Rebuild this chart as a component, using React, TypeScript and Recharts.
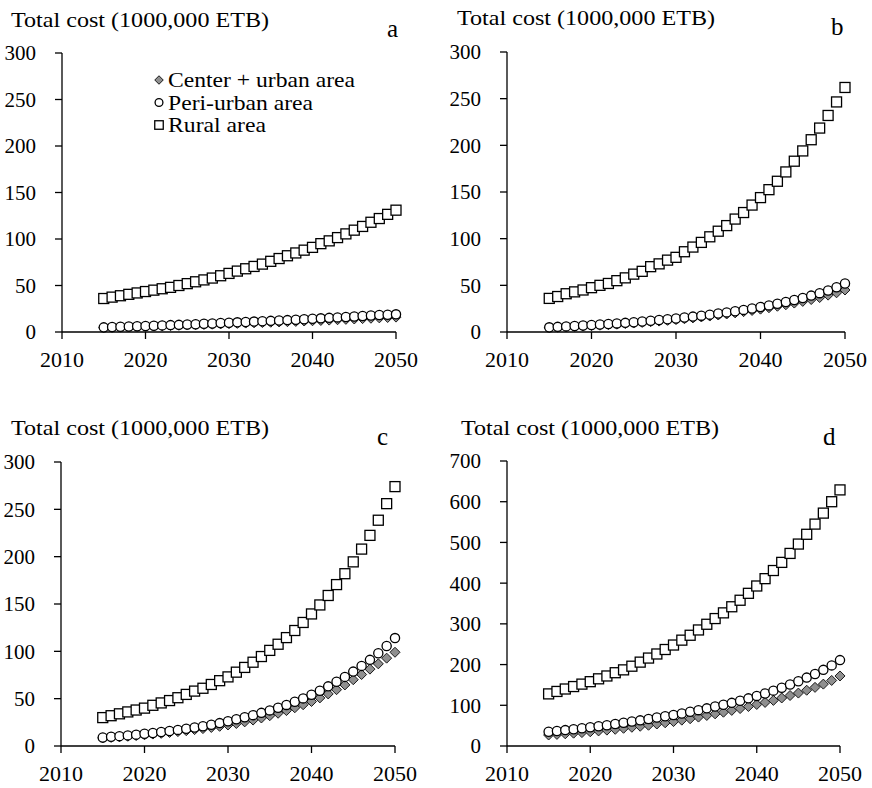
import React from 'react'
import { ScatterChart, Scatter, XAxis, YAxis } from 'recharts'

const years = [
    2015, 2016, 2017, 2018, 2019, 2020, 2021, 2022, 2023, 2024, 2025, 2026,
    2027, 2028, 2029, 2030, 2031, 2032, 2033, 2034, 2035, 2036, 2037, 2038,
    2039, 2040, 2041, 2042, 2043, 2044, 2045, 2046, 2047, 2048, 2049, 2050,
]

const seriesNames = ['Center + urban area', 'Peri-urban area', 'Rural area']
const xTicks = [2010, 2020, 2030, 2040, 2050]
const yTicks300 = [0, 50, 100, 150, 200, 250, 300]
const yTicks700 = [0, 100, 200, 300, 400, 500, 600, 700]
const axisTitle = 'Total cost (1000,000 ETB)'

// panel a
const centerA = [4.5, 4.8, 5.1, 5.4, 5.7, 6, 6.3, 6.6, 6.9, 7.2, 7.5, 7.8, 8.1, 8.4, 8.7, 9, 9.3, 9.6, 9.9, 10.2, 10.5, 10.8, 11.1, 11.4, 11.8, 12.1, 12.4, 12.8, 13.2, 13.6, 14, 14.4, 14.8, 15.2, 15.6, 16]
const periA = [5, 5.3, 5.6, 5.9, 6.2, 6.5, 6.8, 7.1, 7.4, 7.7, 8, 8.4, 8.8, 9.2, 9.6, 10, 10.4, 10.8, 11.2, 11.6, 12, 12.4, 12.8, 13.2, 13.7, 14.2, 14.7, 15.2, 15.7, 16.2, 16.7, 17.2, 17.7, 18.2, 18.6, 19]
const ruralA = [36, 37.5, 39, 40.5, 42, 43.5, 45, 46.5, 48, 50, 52, 54, 56, 58, 60.5, 63, 65.5, 68, 70.5, 73, 76, 79, 82, 85, 88, 91, 95, 98, 101.5, 105.5, 109.5, 113.5, 118, 122, 126.5, 131]

// panel b
const centerB = [4.5, 5, 5.4, 5.8, 6.3, 6.8, 7.3, 7.8, 8.4, 9, 9.6, 10.3, 11, 11.7, 12.5, 13.3, 14.2, 15.1, 16.1, 17.1, 18.2, 19.3, 20.5, 21.8, 23.1, 24.5, 26, 27.6, 29.2, 31, 32.8, 34.8, 36.9, 39.5, 42, 45]
const periB = [5, 5.5, 6, 6.5, 7, 7.5, 8, 8.6, 9.2, 9.8, 10.5, 11.2, 12, 12.8, 13.6, 14.5, 15.5, 16.5, 17.5, 18.6, 19.8, 21, 22.3, 23.7, 25.2, 26.8, 28.5, 30.3, 32.2, 34.3, 36.5, 39, 41.6, 44.5, 48, 52]
const ruralB = [36, 38, 41, 43, 45, 47.5, 50, 52, 55, 58, 62, 65, 70, 73, 77, 80, 86, 91, 96, 102, 108, 114, 121, 128, 136, 144, 152.5, 161.5, 171.5, 183, 194, 206, 218.5, 232, 246.5, 262]

// panel c
const centerC = [8.5, 9.1, 9.7, 10.3, 11, 11.8, 12.6, 13.4, 14.3, 15.2, 16.2, 17.3, 18.4, 19.6, 20.8, 22.2, 23.8, 25.5, 27.4, 29.6, 32, 34.6, 37.4, 40.4, 43.6, 47, 50.8, 55, 59.5, 64.5, 70, 75.5, 81.2, 86.8, 92.8, 99]
const periC = [9, 9.7, 10.4, 11.2, 12, 12.9, 13.8, 14.8, 15.9, 17, 18.2, 19.5, 20.9, 22.4, 24.2, 26.2, 28.3, 30.4, 32.6, 35, 37.6, 40.4, 43.4, 46.7, 50.3, 54.2, 58.4, 63, 67.8, 73, 78.6, 84.6, 91, 98, 105.7, 114]
const ruralC = [30, 32, 34, 36, 38, 40, 43, 45.5, 48, 51, 54.5, 58, 61, 65, 69, 73, 78, 83, 88.5, 94.5, 101, 107.5, 114.5, 122, 130.5, 139.5, 149, 159, 170.5, 182, 194.5, 208, 222.5, 238.5, 256, 274]

// panel d
const centerD = [27, 28.5, 30, 31.5, 33, 35, 37, 39, 41, 43.5, 46, 48.5, 51, 54, 57, 60, 63.5, 67, 71, 75, 79, 83, 87.5, 92, 97, 102, 107, 112, 118, 124, 130, 137, 144, 152, 161, 172]
const periD = [35, 37, 39, 41, 43.5, 46, 48.5, 51, 54, 57, 60, 63, 66.5, 70, 73, 76, 80, 84, 88, 92.5, 97, 101.5, 106, 111, 117, 123, 129, 136, 143, 151, 159, 168, 177, 187, 198, 211]
const ruralD = [128, 134, 140, 146, 152, 158, 165, 172, 180, 187, 196, 206, 216, 226, 237, 248, 260, 272, 285, 299, 313, 327, 342, 358, 375, 393, 411, 431, 451, 473, 496, 520, 545, 572, 600, 629]

const FONT = '"Liberation Serif", "Times New Roman", serif'

const toPoints = (values: number[]) => years.map((year, i) => ({ x: year, y: values[i] }))

// marker half-widths in px; `k` scales them down for the legend
function DiamondShape({ cx, cy, k = 1 }: any) {
    const s = 5 * k
    return (
        <path
            d={`M${cx},${cy - s}L${cx + s},${cy}L${cx},${cy + s}L${cx - s},${cy}Z`}
            fill="#8f8f8f"
            stroke="#1a1a1a"
            strokeWidth={1}
        />
    )
}

function CircleShape({ cx, cy, k = 1 }: any) {
    return <circle cx={cx} cy={cy} r={4.6 * k} fill="#fff" stroke="#000" strokeWidth={1.3} />
}

function SquareShape({ cx, cy, k = 1 }: any) {
    const h = 5 * k
    return <rect x={cx - h} y={cy - h} width={h * 2} height={h * 2} fill="#fff" stroke="#000" strokeWidth={1.3} />
}

const shapes = [DiamondShape, CircleShape, SquareShape]

type Panel = {
    letter: string
    left: number
    top: number
    margin: { top: number; right: number; bottom: number; left: number }
    yMax: number
    yTicks: number[]
    series: number[][]
    titleX: number
    titleY: number
    letterX: number
    letterY: number
}

const panels: Panel[] = [
    {
        letter: 'a', left: 0, top: 0,
        margin: { top: 53, right: 40, bottom: 32, left: 12 },
        yMax: 300, yTicks: yTicks300, series: [centerA, periA, ruralA],
        titleX: 11, titleY: 27, letterX: 387, letterY: 37,
    },
    {
        letter: 'b', left: 436, top: 0,
        margin: { top: 52, right: 27, bottom: 32, left: 21 },
        yMax: 300, yTicks: yTicks300, series: [centerB, periB, ruralB],
        titleX: 457, titleY: 25, letterX: 831, letterY: 35,
    },
    {
        letter: 'c', left: 0, top: 394,
        margin: { top: 68, right: 41, bottom: 12, left: 11 },
        yMax: 300, yTicks: yTicks300, series: [centerC, periC, ruralC],
        titleX: 11, titleY: 435, letterX: 377, letterY: 445,
    },
    {
        letter: 'd', left: 436, top: 394,
        margin: { top: 67, right: 32, bottom: 12, left: 21 },
        yMax: 700, yTicks: yTicks700, series: [centerD, periD, ruralD],
        titleX: 461, titleY: 435, letterX: 823, letterY: 445,
    },
]

const tickStyle = { fill: '#000', fontSize: 22, fontFamily: FONT }
const axisStroke = { stroke: '#000', strokeWidth: 1.3 }

function PanelChart({ panel }: { panel: Panel }) {
    return (
        <div style={{ position: 'absolute', left: panel.left, top: panel.top, fontFamily: FONT }}>
            <ScatterChart width={436} height={394} margin={panel.margin} style={{ fontFamily: FONT, overflow: 'visible' }}>
                <XAxis
                    type="number"
                    dataKey="x"
                    domain={[2010, 2050]}
                    ticks={xTicks}
                    interval={0}
                    height={30}
                    tickSize={7}
                    tickMargin={12}
                    tick={tickStyle}
                    axisLine={axisStroke}
                    tickLine={axisStroke}
                />
                <YAxis
                    type="number"
                    dataKey="y"
                    domain={[0, panel.yMax]}
                    ticks={panel.yTicks}
                    interval={0}
                    width={50}
                    tickSize={7}
                    tickMargin={19}
                    tick={{ ...tickStyle, fontSize: 21 }}
                    axisLine={axisStroke}
                    tickLine={axisStroke}
                />
                {panel.series.map((values, i) => {
                    const Shape = shapes[i]
                    return (
                        <Scatter
                            key={seriesNames[i]}
                            name={seriesNames[i]}
                            data={toPoints(values)}
                            shape={(p: any) => <Shape cx={p.cx} cy={p.cy} />}
                            isAnimationActive={false}
                        />
                    )
                })}
            </ScatterChart>
        </div>
    )
}

// legend rows inside panel a
const legendRows = [
    { y: 80, width: 187 },
    { y: 102.5, width: 145 },
    { y: 125, width: 98 },
]

function Overlay() {
    return (
        <svg width={872} height={788} style={{ position: 'absolute', left: 0, top: 0, pointerEvents: 'none', fontFamily: FONT }}>
            {panels.map((p) => (
                <g key={p.letter}>
                    <text x={p.titleX} y={p.titleY} fontSize={21} textLength={258} lengthAdjust="spacingAndGlyphs">
                        {axisTitle}
                    </text>
                    <text x={p.letterX} y={p.letterY} fontSize={25}>
                        {p.letter}
                    </text>
                </g>
            ))}
            {legendRows.map((row, i) => {
                const Shape = shapes[i]
                return (
                    <g key={seriesNames[i]}>
                        <Shape cx={159} cy={row.y} k={0.85} />
                        <text
                            x={168}
                            y={row.y}
                            dy="0.35em"
                            fontSize={21}
                            textLength={row.width}
                            lengthAdjust="spacingAndGlyphs"
                        >
                            {seriesNames[i]}
                        </text>
                    </g>
                )
            })}
        </svg>
    )
}

export default function App() {
    return (
        <div style={{ position: 'absolute', left: 0, top: 0, width: 872, height: 788, background: '#fff', fontFamily: FONT }}>
            {panels.map((p) => (
                <PanelChart key={p.letter} panel={p} />
            ))}
            <Overlay />
        </div>
    )
}
